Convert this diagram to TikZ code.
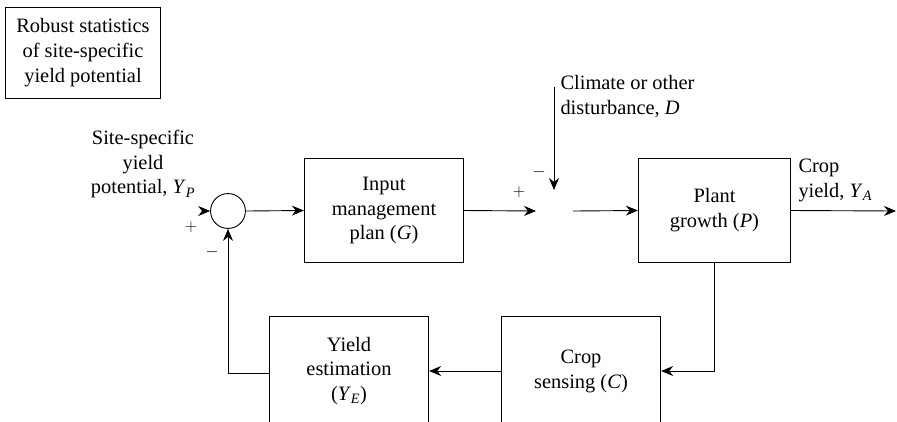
\documentclass[tikz,border=0pt]{standalone}
\usepackage{fontspec}
\setmainfont{Liberation Serif}
\usepackage{tikz}
\usetikzlibrary{arrows.meta, positioning, calc}

\tikzset{
  block/.style={draw, line width=0.9pt, minimum width=160, minimum height=105, align=center, inner sep=2pt},
  sumjoint/.style={draw, line width=0.9pt, circle, minimum size=35, inner sep=0pt},
  sig/.style={line width=0.9pt, -{Stealth[length=12pt, width=10pt]}},
  sign/.style={font=\fontsize{16}{16}\selectfont, inner sep=0pt}
}
\newcommand{\varsub}[2]{\textit{#1}\textsubscript{\textit{#2}}}

\begin{document}
\begin{tikzpicture}[x=1bp, y=-1bp, every node/.style={font=\fontsize{20.5}{25}\selectfont}]
  \useasboundingbox (0,0) rectangle (897,421);
  \clip (0,0) rectangle (897,421);

  % statistics box
  \node[draw, line width=0.9pt, minimum width=156, minimum height=92, align=center, inner sep=2pt]
    (robust) at (83,53) {Robust statistics\\of site-specific\\yield potential};

  % forward path
  \node[align=center] (yp) at (143,164) {Site-specific\\yield\\potential, \varsub{Y}{P}};
  \node[sumjoint] (sum) at (228,211) {};
  \node[block] (input) at (384,210.5) {Input\\management\\plan (\textit{G})};
  \node[block, minimum width=153] (plant) at (714.5,210.5) {Plant\\growth (\textit{P})};
  \coordinate (jin) at (536,211);
  \coordinate (jout) at (573,211);
  \coordinate (dtop) at (554,87);
  \coordinate (dend) at (554,190);
  \coordinate (yout) at (896,211);
  \coordinate (ypin) at (202,211);
  \node[align=left, anchor=north west] (dist) at (557,72) {Climate or other\\disturbance, \textit{D}};
  \node[align=left, anchor=south west] (crop) at (795,205) {Crop\\yield, \varsub{Y}{A}};

  % feedback path
  \node[block, minimum height=110] (sense) at (581,371) {Crop\\sensing (\textit{C})};
  \node[block, minimum height=110] (yest) at (349,371) {Yield\\estimation\\(\varsub{Y}{E})};

  % signs
  \node[sign] (p1) at (191,227) {$+$};
  \node[sign] (m1) at (212,252) {$-$};
  \node[sign] (p2) at (519,192) {$+$};
  \node[sign] (m2) at (539,172) {$-$};

  % connectors
  \draw[sig] (ypin) -- (sum.west);
  \draw[sig] (sum.east) -- (input.west);
  \draw[sig] (input.east) -- (jin);
  \draw[sig] (jout) -- (plant.west);
  \draw[sig] (dtop) -- (dend);
  \draw[sig] (plant.east) -- (yout);
  \draw[sig] (plant.south) |- (sense.east);
  \draw[sig] (sense.west) -- (yest.east);
  \draw[sig] ([yshift=-2pt]yest.west) -| (sum.south);
\end{tikzpicture}
\end{document}
